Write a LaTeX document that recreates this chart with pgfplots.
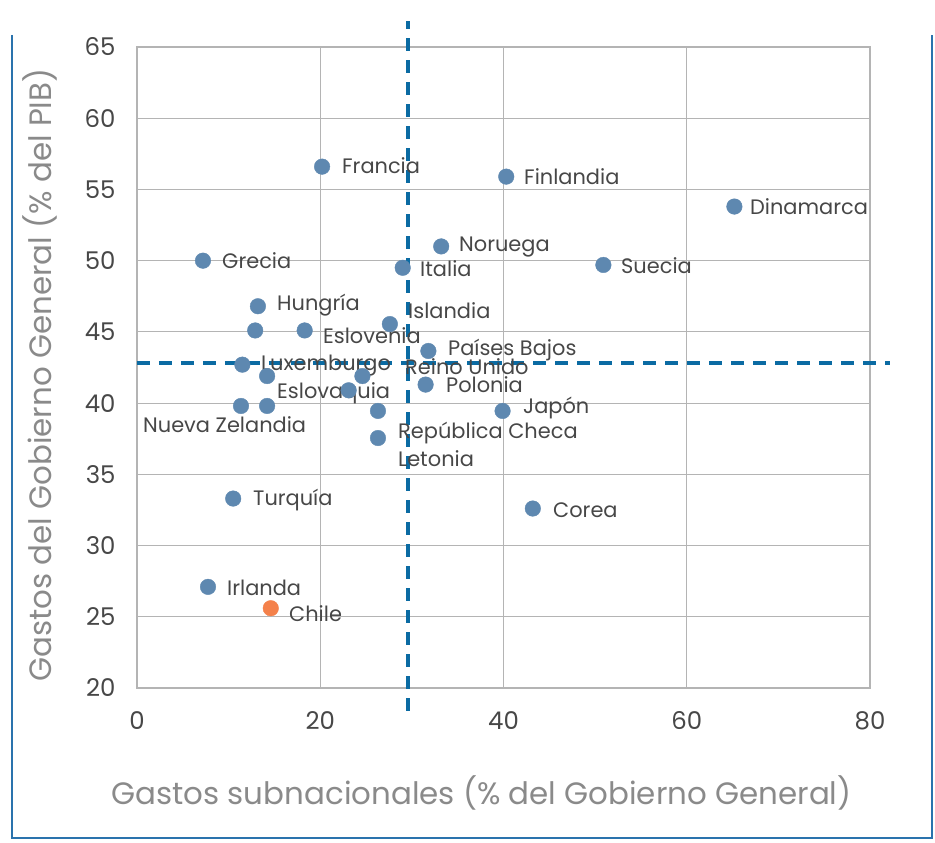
\documentclass[border=0pt]{standalone}
\usepackage{fontspec}
\setmainfont{Poppins}
\usepackage{pgfplots}
\pgfplotsset{compat=1.18}
\definecolor{pt}{HTML}{5E88B0}
\definecolor{orng}{HTML}{F4814B}
\definecolor{dsh}{HTML}{0B6BA3}
\definecolor{frm}{HTML}{2A73AD}
\definecolor{grd}{HTML}{B4B4B4}
\definecolor{txt}{HTML}{474747}
\definecolor{lab}{HTML}{8A8A8A}
\begin{document}
\begin{tikzpicture}
\useasboundingbox (-137bp,-155bp) rectangle (798bp,688bp);
\draw[frm, line width=2bp] (-125bp,653bp) -- (-125bp,-150bp) -- (795bp,-150bp) -- (795bp,653bp);
\begin{axis}[
  anchor=south west, at={(0,0)},
  scale only axis, width=733bp, height=641bp,
  xmin=0, xmax=80, ymin=20, ymax=65,
  xtick={0,20,...,80}, ytick={20,25,...,65},
  grid=major, grid style={grd, line width=1.2bp},
  axis line style={grd, line width=1.2bp},
  major tick length=0pt,
  tick label style={font=\fontsize{24.5}{26}\selectfont, text=txt},
  /pgf/number format/assume math mode=true,
  xticklabel style={yshift=-20bp},
  yticklabel style={xshift=-18bp},
  clip=false,
  xlabel={Gastos subnacionales (\% del Gobierno General)},
  ylabel={Gastos del Gobierno General (\% del PIB)},
  label style={font=\fontsize{31}{34}\selectfont, text=lab},
  xlabel style={at={(axis description cs:0.47,-0.1638)}, anchor=center},
  ylabel style={at={(axis description cs:-0.1323,0.488)}, anchor=center},
]
\addplot[dsh, line width=3.5bp, dash pattern=on 13bp off 9bp] coordinates {(29.6,18.4) (29.6,66.8)};
\addplot[dsh, line width=3.5bp, dash pattern=on 13bp off 9bp] coordinates {(0,42.8) (82.2,42.8)};
\addplot[only marks, mark=*, mark size=7.8bp, mark options={fill=pt, draw=pt}] coordinates {
(20.2,56.6) (40.3,55.9) (65.2,53.8) (33.2,51.0) (7.2,50.0) (29.0,49.5) (50.9,49.7)
(13.2,46.8) (27.6,45.55) (12.9,45.1) (18.3,45.1) (31.8,43.66) (11.5,42.7) (14.2,41.9)
(24.6,41.9) (23.1,40.9) (31.5,41.3) (11.35,39.8) (14.2,39.8) (26.3,39.45) (39.9,39.45)
(26.3,37.55) (10.5,33.3) (43.2,32.6) (7.75,27.1)
};
\addplot[only marks, mark=*, mark size=7.8bp, mark options={fill=orng, draw=orng}] coordinates {(14.6,25.6)};
\begin{scope}[every node/.style={anchor=west, inner sep=0pt, text=txt, font=\fontsize{21}{24}\selectfont}]
\node at (axis cs:22.37,56.65) {Francia};
\node at (axis cs:42.24,55.87) {Finlandia};
\node at (axis cs:66.90,53.77) {Dinamarca};
\node at (axis cs:35.14,50.96) {Noruega};
\node at (axis cs:9.28,50.0) {Grecia};
\node at (axis cs:30.89,49.41) {Italia};
\node at (axis cs:52.82,49.62) {Suecia};
\node at (axis cs:15.28,46.89) {Hungría};
\node at (axis cs:29.58,46.47) {Islandia};
\node at (axis cs:20.30,44.71) {Eslovenia};
\node at (axis cs:33.94,43.72) {Países Bajos};
\node at (axis cs:13.53,42.60) {Luxemburgo};
\node at (axis cs:29.25,42.55) {Reino Unido};
\node at (axis cs:15.28,40.71) {Eslovaquia};
\node at (axis cs:33.72,41.27) {Polonia};
\node at (axis cs:42.13,39.66) {Japón};
\node at (axis cs:0.65,38.46) {Nueva Zelandia};
\node at (axis cs:28.49,37.90) {República Checa};
\node at (axis cs:28.49,36.08) {Letonia};
\node at (axis cs:12.66,33.20) {Turquía};
\node at (axis cs:45.40,32.49) {Corea};
\node at (axis cs:9.82,27.02) {Irlanda};
\node at (axis cs:16.59,25.19) {Chile};
\end{scope}
\end{axis}
\end{tikzpicture}
\end{document}
